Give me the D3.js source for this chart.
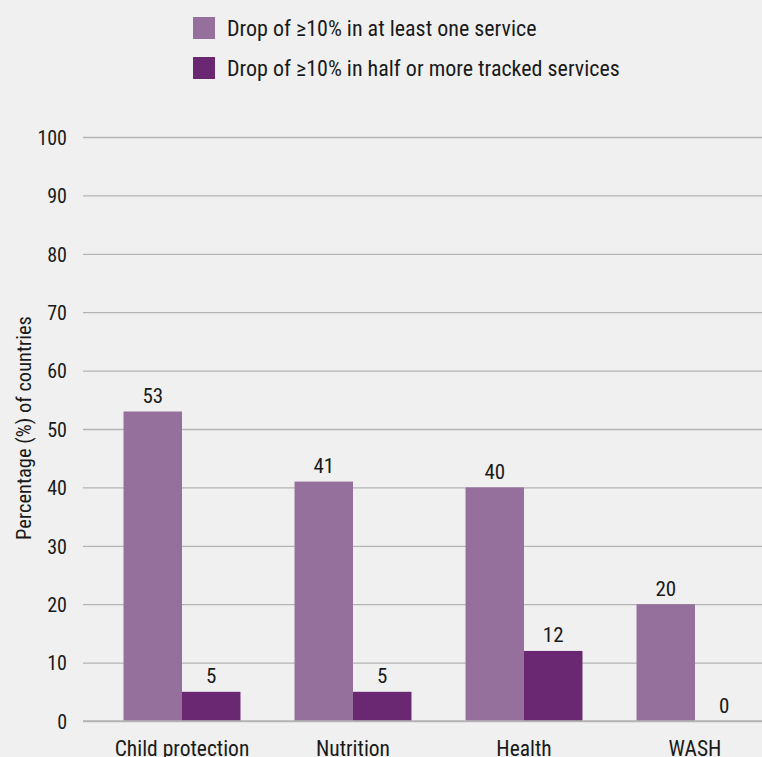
<!DOCTYPE html>
<html>
<head>
<meta charset="utf-8">
<script src="https://cdn.jsdelivr.net/npm/d3@7"></script>
<style>
  html, body { margin: 0; padding: 0; background: #f0f0f0; }
  svg { display: block; }
  text { font-family: "Liberation Sans Narrow", "Roboto Condensed", "Arial Narrow", Roboto, sans-serif; fill: #1a1a1a; }
</style>
</head>
<body>
<script>
// Share of countries reporting service disruptions, by sector
const categories = ["Child protection", "Nutrition", "Health", "WASH"];
const seriesNames = ["Drop of ≥10% in at least one service", "Drop of ≥10% in half or more tracked services"];
const atLeastOne = [53, 41, 40, 20];
const halfOrMore = [5, 5, 12, 0];
const yTicks = [0, 10, 20, 30, 40, 50, 60, 70, 80, 90, 100];
const colors = ["#96709c", "#6a2872"];

const W = 762, H = 757;
const svg = d3.select("body").append("svg").attr("width", W).attr("height", H);
svg.append("rect").attr("width", W).attr("height", H).attr("fill", "#f0f0f0");

const y = d3.scaleLinear().domain([0, 100]).range([721, 137]);
const x0 = d3.scaleBand().domain(categories).range([96.5, 780.5]).paddingInner(0.316).paddingOuter(0.158);
const x1 = d3.scaleBand().domain([0, 1]).range([0, x0.bandwidth()]);

// Gridlines and y tick labels
const yAxis = d3.axisLeft(y).tickValues(yTicks).tickSize(-(W - 83)).tickPadding(16);
const gy = svg.append("g").attr("transform", "translate(83,0)").call(yAxis);
gy.select(".domain").remove();
gy.selectAll(".tick line").attr("stroke", "#b4b4b4").attr("stroke-width", 1.3);
gy.selectAll(".tick text").attr("font-size", 20).attr("fill", "#1a1a1a").attr("x", -16).attr("dy", "0.36em");

// Y axis title
svg.append("text")
  .attr("transform", "translate(31,428) rotate(-90)")
  .attr("text-anchor", "middle")
  .attr("font-size", 20.5)
  .text("Percentage (%) of countries");

// Bars
const rows = categories.map((c, i) => ({ cat: c, vals: [atLeastOne[i], halfOrMore[i]] }));
const groups = svg.append("g").selectAll("g").data(rows).join("g")
  .attr("transform", d => `translate(${x0(d.cat)},0)`);

groups.selectAll("rect").data(d => d.vals.map((v, k) => ({ v, k }))).join("rect")
  .attr("x", d => x1(d.k))
  .attr("width", x1.bandwidth())
  .attr("y", d => y(d.v))
  .attr("height", d => y(0) - y(d.v))
  .attr("fill", d => colors[d.k]);

groups.selectAll("text.val").data(d => d.vals.map((v, k) => ({ v, k }))).join("text")
  .attr("class", "val")
  .attr("x", d => x1(d.k) + x1.bandwidth() / 2)
  .attr("y", d => y(d.v) - 8.5)
  .attr("text-anchor", "middle")
  .attr("font-size", 21)
  .text(d => d.v);

// Category labels
const xAxis = d3.axisBottom(x0).tickSize(0);
const gx = svg.append("g").attr("transform", "translate(0,721)").call(xAxis);
gx.select(".domain").remove();
gx.selectAll(".tick text").attr("font-size", 21.5).attr("fill", "#1a1a1a").attr("y", 35).attr("dy", 0);

// Baseline
svg.append("line").attr("x1", 83).attr("x2", W).attr("y1", y(0)).attr("y2", y(0))
  .attr("stroke", "#b4b4b4").attr("stroke-width", 1.6);

// Legend
const legend = svg.append("g").selectAll("g").data(seriesNames).join("g")
  .attr("transform", (d, i) => `translate(193,${17 + i * 40})`);
legend.append("rect").attr("width", 22).attr("height", 22).attr("fill", (d, i) => colors[i]);
legend.append("text").attr("x", 34).attr("y", 19).attr("font-size", 22).text(d => d);
</script>
</body>
</html>
